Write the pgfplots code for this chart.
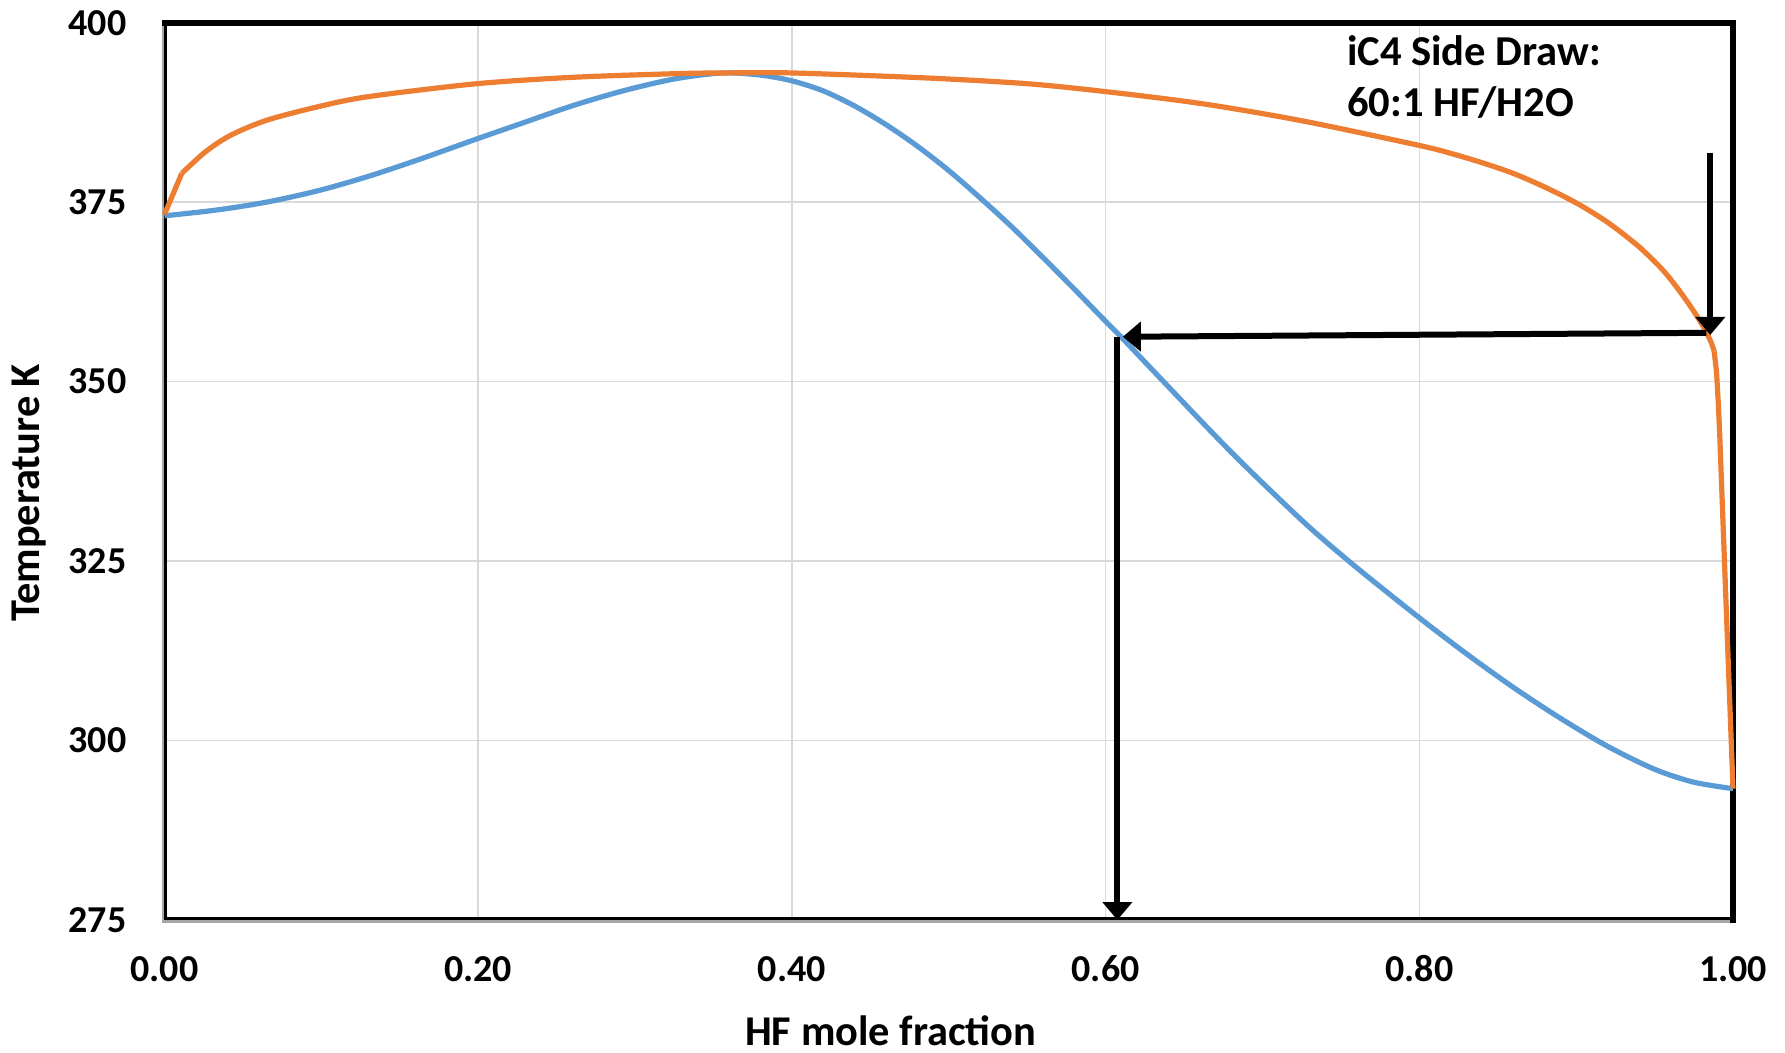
\documentclass[border=0pt]{standalone}
\usepackage{pgfplots}
\pgfplotsset{compat=1.18}
\usepackage{fontspec}
\setmainfont{Carlito}
\usetikzlibrary{arrows.meta}
\definecolor{corange}{HTML}{ED7D31}
\definecolor{cblue}{HTML}{5B9BD5}
\definecolor{cgrid}{HTML}{D9D9D9}
\begin{document}
\begin{tikzpicture}
\begin{axis}[
  name=ax, at={(0,0)}, anchor=south west,
  scale only axis, width=784.25pt, height=448.65pt,
  xmin=0, xmax=1, ymin=275, ymax=400,
  clip=false,
  axis line style={draw=none},
  major tick length=0pt,
  xtick={0,0.2,0.4,0.6,0.8,1},
  xticklabels={0.00,0.20,0.40,0.60,0.80,1.00},
  ytick={275,300,325,350,375,400},
  yticklabels={275,300,325,350,375,400},
  /pgf/number format/assume math mode=true,
  grid=major,
  grid style={cgrid, line width=0.8pt},
  xticklabel style={font=\fontsize{19}{19}\selectfont\bfseries, anchor=base, inner sep=0pt, yshift=-30.8pt},
  yticklabel style={font=\fontsize{19}{19}\selectfont\bfseries, anchor=east, inner sep=0pt, xshift=-18.9pt},
  xlabel={HF mole fraction},
  ylabel={Temperature K},
  every axis x label/.style={at={(axis description cs:0.463,0)}, anchor=base, yshift=-62.5pt, font=\fontsize{21.2}{21.2}\selectfont\bfseries},
  every axis y label/.style={at={(axis description cs:0,0.476)}, xshift=-67.5pt, rotate=90, anchor=center, font=\fontsize{21.2}{21.2}\selectfont\bfseries},
]
% frame
\draw[black!35, line width=2.6pt] (rel axis cs:0,1) -- (rel axis cs:0,0) -- (rel axis cs:1,0);
\draw[black, line width=1.4pt, xshift=0.65pt, yshift=0.65pt] (rel axis cs:0,1) -- (rel axis cs:0,0) -- (rel axis cs:1,0);
\draw[black, line width=2.8pt, line cap=rect] (rel axis cs:0,1) -- (rel axis cs:1,1) -- (rel axis cs:1,0);

% blue curve (liquid)
\addplot[cblue, line width=2.6pt, line join=round, smooth, tension=0.5] coordinates {
(0.000,373.1) (0.033,373.9) (0.065,375.0) (0.098,376.6) (0.130,378.6)
(0.163,381.0) (0.199,383.8) (0.228,386.0) (0.261,388.5) (0.294,390.6)
(0.326,392.2) (0.356,393.0) (0.380,392.7) (0.400,391.9) (0.420,390.5)
(0.440,388.4) (0.460,385.8) (0.480,382.8) (0.500,379.4) (0.520,375.6)
(0.540,371.6) (0.560,367.3) (0.580,362.9) (0.600,358.4) (0.610,356.2)
(0.620,353.9) (0.640,349.3) (0.660,344.7) (0.680,340.2) (0.700,335.9)
(0.730,329.7) (0.760,324.1) (0.800,317.1) (0.830,312.1) (0.860,307.4)
(0.890,303.1) (0.920,299.2) (0.950,296.0) (0.975,294.2) (1.000,293.3)
};
% orange curve (vapour)
\addplot[corange, line width=2.6pt, line join=round] coordinates {
(0.000,373.3) (0.011,379.0)
};
\addplot[corange, line width=2.6pt, line join=round, smooth, tension=0.5] coordinates {
(0.011,379.0) (0.026,382.0) (0.042,384.3) (0.065,386.4)
(0.098,388.3) (0.130,389.7) (0.199,391.5) (0.261,392.4) (0.326,392.9)
(0.356,393.0) (0.400,393.0) (0.486,392.3) (0.550,391.5) (0.600,390.4)
(0.662,388.7) (0.726,386.3) (0.800,382.9) (0.820,381.8) (0.840,380.5)
(0.860,379.0) (0.880,377.1) (0.900,374.9) (0.920,372.2) (0.940,368.8)
(0.955,365.6) (0.965,362.9) (0.975,359.8) (0.982,357.3) (0.986,355.5)
(0.988,354.2)
};
\addplot[corange, line width=2.6pt, line join=round] coordinates {
(0.988,354.2) (0.9895,351.3) (0.9905,347.5) (0.9915,342.8) (1.000,293.3)
};

% arrows
\addplot[black, line width=3pt, -{Triangle[length=9pt,width=14.5pt]}] coordinates {(0.9855,381.9) (0.9855,356.5)};
\addplot[black, line width=3pt, -{Triangle[length=9pt,width=14.5pt]}] coordinates {(0.983,356.8) (0.611,356.25)};
\addplot[black, line width=3pt, -{Triangle[length=9pt,width=14.5pt]}] coordinates {(0.6075,356.2) (0.6075,275)};

% annotation
\node[anchor=base west, inner sep=0pt, font=\fontsize{21.3}{21.3}\selectfont\bfseries] at (axis cs:0.7537,394.1) {iC4 Side Draw:};
\node[anchor=base west, inner sep=0pt, font=\fontsize{21.3}{21.3}\selectfont\bfseries] at (axis cs:0.7537,387.0) {60:1 HF/H2O};
\end{axis}
\path (ax.south west) ++(-82.25pt,-66pt) coordinate (bl);
\path (ax.north east) ++(26pt,11.35pt) coordinate (tr);
\pgfresetboundingbox
\path[use as bounding box] (bl) rectangle (tr);
\end{tikzpicture}
\end{document}
